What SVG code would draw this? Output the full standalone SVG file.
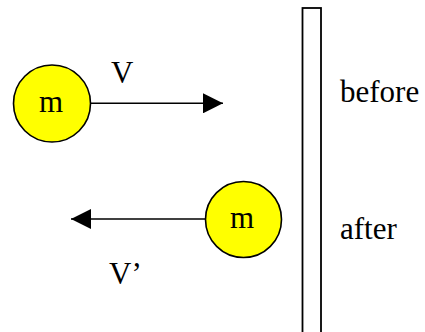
<svg xmlns="http://www.w3.org/2000/svg" width="425" height="332" viewBox="0 0 425 332">
<style>
.ball{fill:#FFFF00;stroke:#000;stroke-width:1.6}
.t{font-family:"Liberation Serif","Times New Roman",serif;font-size:31px;fill:#000}
.line{stroke:#000;stroke-width:1.6;fill:none}
</style>
<defs>
<marker id="ah" viewBox="0 0 20 20" refX="20" refY="10" markerWidth="20" markerHeight="20" markerUnits="userSpaceOnUse" orient="auto">
<path d="M0,0 L20,10 L0,20 Z" fill="#000"/>
</marker>
</defs>
<rect width="425" height="332" fill="#fff"/>
<g id="wall">
<rect x="302.5" y="8" width="18.5" height="340" fill="#fff" stroke="#000" stroke-width="1.8"/>
</g>
<g id="ball-before">
<circle class="ball" cx="52" cy="103.5" r="38.5"/>
<text class="t" x="51" y="111.5" text-anchor="middle">m</text>
</g>
<g id="ball-after">
<circle class="ball" cx="243.5" cy="219.5" r="38"/>
<text class="t" x="242" y="228" text-anchor="middle">m</text>
</g>
<g id="connectors">
<line class="line" x1="90.5" y1="103.3" x2="223" y2="103.3" marker-end="url(#ah)"/>
<line class="line" x1="205.5" y1="219" x2="71" y2="219" marker-end="url(#ah)"/>
</g>
<g id="labels">
<text class="t" x="111" y="83">V</text>
<text class="t" x="109" y="284">V’</text>
<text class="t" x="340" y="101.5">before</text>
<text class="t" x="340" y="238.5">after</text>
</g>
</svg>
